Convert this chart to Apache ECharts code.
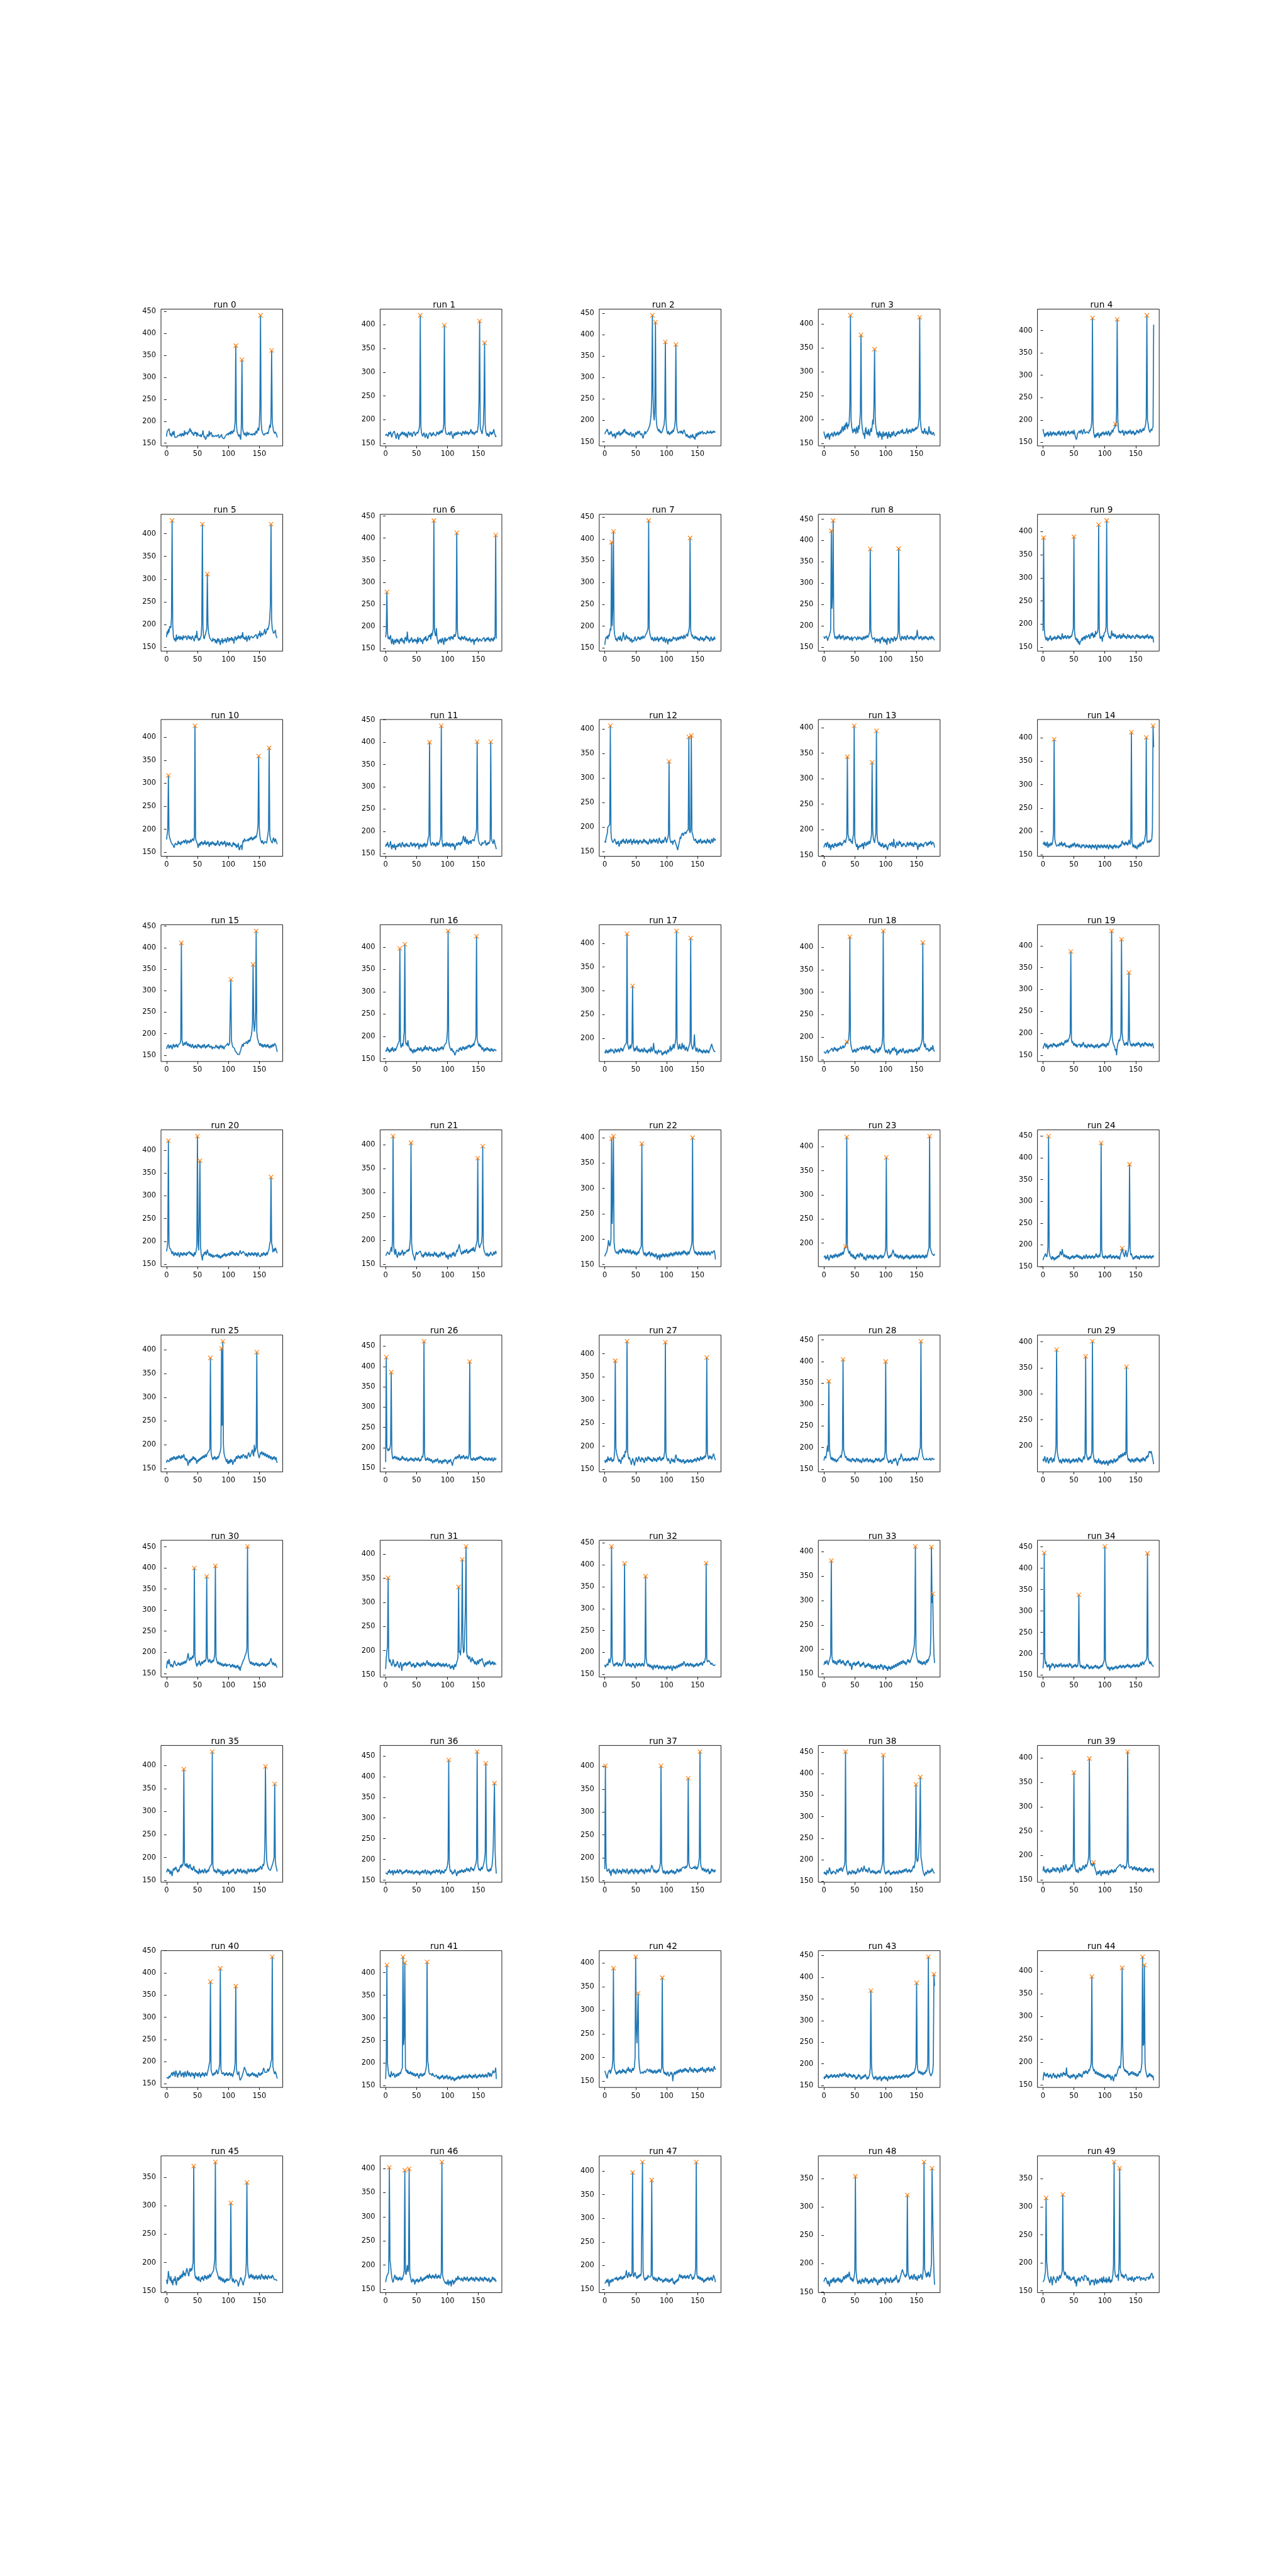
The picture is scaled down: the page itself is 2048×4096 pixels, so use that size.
<!DOCTYPE html>
<html><head><meta charset="utf-8">
<script src="https://cdn.jsdelivr.net/npm/echarts@6/dist/echarts.min.js"></script>
<style>html,body{margin:0;padding:0;background:#fff}#c{width:2048px;height:4096px}</style>
</head><body><div id="c"></div><script>
const run0 = [165,177,176,179,183,174,168,172,165,170,176,169,178,166,163,165,162,164,168,166,
170,167,172,170,165,173,168,172,166,179,170,168,175,172,169,177,174,180,184,176,
180,172,175,170,167,173,176,171,175,165,174,170,168,172,166,170,164,168,171,179,
168,163,166,158,160,164,170,172,165,178,168,166,175,172,164,168,170,165,167,163,
168,165,163,166,170,162,164,165,167,170,163,165,162,160,163,165,168,166,170,172,
168,174,171,176,170,178,175,172,180,176,185,200,372,195,178,173,168,165,170,163,
158,190,340,185,176,172,168,174,170,165,176,172,168,174,171,170,173,169,172,168,
170,166,173,168,175,178,172,180,185,178,190,230,441,200,180,175,171,173,168,172,
170,174,172,175,171,176,178,192,185,210,361,195,188,178,175,172,176,175,170,163];
const run1 = [166,170,168,172,165,174,169,171,175,167,163,170,172,168,176,171,165,160,167,172,
168,158,164,170,166,173,169,175,171,168,174,170,165,172,168,162,170,175,172,167,
170,173,168,164,171,169,175,172,166,170,168,174,171,176,180,190,420,185,172,168,
165,170,173,167,162,168,171,166,160,164,170,168,173,169,165,171,167,174,170,168,
172,166,169,175,170,173,168,176,171,174,178,172,170,180,192,399,186,175,170,168,
172,169,174,171,167,173,176,170,165,160,168,172,166,170,174,168,171,175,170,172,
168,173,170,166,172,176,171,174,169,177,173,170,175,172,168,174,171,176,180,174,
170,175,172,168,174,171,176,178,173,180,192,240,408,185,178,174,170,172,190,230,
362,190,176,170,166,172,168,164,170,175,172,168,174,170,176,180,172,168,164,166];
const run2 = [168,172,170,176,180,174,170,166,172,168,175,171,166,162,168,164,170,158,163,169,
172,166,170,175,168,164,171,167,173,169,178,172,180,176,170,174,168,172,166,170,
165,170,173,168,162,166,170,164,160,167,172,166,170,175,169,172,176,170,166,164,
170,162,158,165,170,175,168,172,170,175,178,182,185,190,200,215,250,445,260,215,
200,230,429,210,190,182,178,175,180,172,176,170,168,174,180,185,190,210,383,200,
180,172,168,175,170,166,172,169,175,170,178,173,180,185,200,377,195,180,174,170,
168,172,175,170,176,172,168,174,178,175,170,166,162,168,165,160,164,162,158,166,
163,160,168,164,158,162,155,165,170,162,168,172,166,170,174,168,172,170,175,168,
166,172,170,174,168,172,176,170,168,173,170,176,172,169,174,171,176,172,170,174];
const run3 = [175,168,164,160,166,170,163,172,168,158,165,170,167,173,168,164,171,175,169,166,
172,168,175,171,167,174,170,178,172,182,186,175,180,188,178,192,185,195,180,190,
186,196,230,418,200,185,178,172,180,175,182,176,170,185,178,172,188,180,195,215,
377,200,182,175,168,172,160,178,184,170,175,168,180,172,166,176,182,174,186,200,
190,230,347,205,185,178,168,174,162,170,176,165,172,168,158,170,175,164,168,172,
166,174,170,160,168,175,164,170,162,168,174,166,172,176,168,170,165,172,168,175,
171,176,170,168,174,178,172,180,175,170,168,174,171,176,182,175,170,178,174,180,
176,172,178,182,175,180,176,182,178,185,180,178,184,192,205,414,200,185,178,172,
176,170,175,182,174,170,176,172,168,174,186,175,170,176,172,168,170,174,170,166];
const run4 = [180,172,168,162,170,165,172,168,174,163,170,166,175,169,164,172,168,174,170,166,
172,168,165,170,174,168,176,170,165,172,168,175,170,166,172,176,170,164,168,174,
170,176,172,168,166,174,170,176,172,168,178,172,165,160,156,162,170,168,172,176,
170,175,178,172,168,174,180,176,170,172,168,174,176,172,170,178,175,180,185,200,
428,190,172,165,160,168,162,170,165,172,168,160,166,170,164,172,168,174,170,166,
172,168,175,170,166,172,176,170,164,172,168,175,178,172,180,180,183,191,186,215,
425,200,180,172,176,170,168,175,172,178,170,165,172,176,170,174,168,172,176,170,
174,178,172,168,175,170,176,172,166,172,168,174,178,172,176,170,174,180,176,172,
178,175,182,176,180,185,190,205,434,200,192,180,176,172,170,180,176,182,185,413];
const run5 = [172,185,178,190,182,196,198,192,215,429,200,175,168,165,170,162,178,166,172,168,
175,170,166,174,168,172,165,176,170,172,168,175,170,166,172,176,171,168,174,170,
166,172,175,170,168,163,172,176,170,186,172,168,164,170,166,172,175,200,421,190,
172,168,175,178,185,190,311,200,182,176,170,172,166,168,162,170,165,163,168,160,
166,158,164,170,162,168,160,155,165,162,170,158,166,168,163,170,164,160,168,172,
166,162,170,165,168,172,164,170,166,158,168,174,170,165,172,168,176,170,174,168,
172,176,170,183,174,168,172,166,170,175,162,168,172,176,165,170,168,174,172,176,
170,168,174,172,176,178,172,168,175,180,176,186,172,178,182,176,174,180,185,190,
178,182,186,192,188,195,200,215,245,421,210,190,186,180,178,184,188,176,172,170];
const run6 = [175,190,278,185,172,176,170,168,180,165,160,172,168,158,165,170,162,168,172,164,
170,165,160,168,172,166,174,170,164,168,160,172,176,170,166,188,172,168,162,170,
166,172,175,168,163,170,166,172,168,165,170,160,176,164,170,168,174,165,170,166,
160,172,168,175,170,178,166,172,168,175,180,176,182,170,185,178,186,195,440,190,
182,178,196,175,168,160,158,170,165,172,162,168,174,166,158,170,175,165,172,168,
166,172,170,176,168,174,178,172,176,170,178,182,176,180,188,412,195,178,172,176,
170,174,168,178,172,176,170,174,178,172,168,174,170,166,172,168,175,170,164,170,
166,172,168,158,170,166,172,168,175,170,165,168,172,170,174,166,170,172,168,175,
170,165,172,168,174,170,176,168,172,165,170,174,168,172,166,176,170,180,407,172];
const run7 = [157,168,175,172,178,170,180,176,185,195,190,392,200,240,417,195,180,175,168,172,
165,170,176,172,168,178,172,165,170,175,186,178,172,168,175,180,172,176,170,168,
174,165,168,172,162,168,170,165,172,176,170,166,168,172,176,170,174,168,172,176,
170,175,178,172,170,176,180,178,185,190,195,442,192,182,176,172,168,175,170,165,
170,175,166,172,168,176,170,164,172,168,174,170,176,172,168,165,175,170,162,168,
172,166,158,170,165,172,168,164,170,166,172,176,170,168,174,170,166,172,175,168,
172,176,170,174,178,172,176,170,180,175,172,178,176,182,176,185,190,200,402,190,
182,176,180,172,175,170,178,172,176,170,174,168,172,166,170,176,172,168,174,170,
165,172,168,175,178,172,176,170,174,168,165,172,176,170,166,172,168,176,170,172];
const run8 = [175,170,172,168,176,172,165,170,174,178,180,190,423,240,270,447,190,178,170,175,
172,168,176,170,174,180,172,168,176,170,174,178,172,166,170,175,168,172,176,170,
174,170,166,172,168,175,164,170,172,168,174,176,170,166,172,175,168,170,174,172,
168,172,166,170,175,168,172,176,170,174,178,172,175,180,185,380,190,176,172,168,
170,166,172,160,168,165,170,162,168,164,170,158,166,172,168,174,166,162,170,165,
160,168,155,172,166,170,164,158,168,172,166,170,162,168,175,170,164,172,168,175,
185,381,188,172,168,165,176,170,174,168,172,176,170,166,174,178,172,170,168,174,
170,176,172,168,174,170,166,172,176,170,178,190,176,172,168,174,170,176,172,166,
170,174,168,172,176,170,174,168,172,166,170,175,172,168,176,170,174,172,168,166];
const run9 = [185,387,192,176,170,165,172,168,163,170,166,172,175,168,164,170,166,172,168,174,
170,166,172,168,176,170,174,168,172,166,170,180,172,168,174,170,176,172,168,170,
176,172,168,174,170,175,172,178,180,190,389,185,172,166,170,162,168,158,164,155,
160,158,166,170,164,172,168,174,166,172,176,170,168,174,178,172,168,176,180,174,
182,176,170,178,172,185,178,176,182,190,415,188,172,168,174,170,162,176,172,180,
178,184,195,424,192,180,176,170,174,168,172,186,178,174,180,176,172,178,174,168,
172,176,170,174,178,172,168,176,170,174,180,172,176,170,174,168,172,178,174,170,
176,172,168,174,170,176,178,172,174,168,176,172,178,174,170,176,172,168,174,170,
172,176,170,174,168,172,176,170,174,178,172,168,174,170,176,172,168,174,170,160];
const run10 = [178,180,200,317,190,182,178,174,170,172,168,165,160,164,170,168,172,166,170,175,
168,172,170,166,174,170,168,172,176,170,174,178,172,168,176,172,175,170,174,178,
172,176,180,178,175,185,425,180,175,172,168,160,166,170,164,172,168,174,170,166,
172,168,176,170,166,172,168,174,170,162,168,172,166,170,174,168,172,166,170,164,
170,166,172,176,168,170,164,172,168,174,170,166,172,168,175,170,162,168,172,166,
170,164,172,168,166,170,162,168,172,166,170,164,168,160,166,162,170,158,155,162,
160,166,155,170,176,172,180,178,174,176,172,178,174,180,176,182,178,184,180,176,
182,178,184,180,186,182,188,195,210,359,205,185,178,174,170,176,172,168,170,174,
172,176,170,180,190,200,377,188,180,175,176,170,178,182,176,172,180,178,172,168];
const run11 = [165,172,168,176,170,164,166,172,178,165,160,170,168,163,172,166,158,168,170,165,
172,166,170,174,168,164,170,176,172,166,170,164,172,168,174,166,170,172,165,168,
172,176,170,166,172,168,174,170,164,172,168,166,174,170,160,168,172,166,170,164,
168,172,166,174,170,164,172,168,178,186,190,400,180,172,168,170,176,172,168,174,
170,166,172,176,168,174,170,176,180,190,437,182,170,165,172,168,174,166,170,176,
168,172,166,174,170,164,172,168,174,166,172,168,158,166,170,174,168,172,176,170,
174,168,176,172,178,185,190,180,176,188,178,172,182,176,170,178,174,180,172,178,
176,182,180,178,186,190,195,205,401,200,182,176,172,170,174,168,176,172,170,174,
176,180,172,168,174,170,176,172,175,182,401,185,178,176,172,182,178,170,166,160];
const run12 = [172,168,176,182,186,200,198,202,205,407,190,175,172,168,170,166,176,172,168,164,
170,166,172,160,164,168,172,166,174,170,176,168,172,166,170,176,172,166,170,174,
168,172,176,170,164,172,168,176,170,166,172,168,174,170,164,172,168,174,176,170,
166,172,168,176,170,174,168,172,166,170,164,168,172,176,170,166,174,168,172,176,
170,174,168,172,176,170,166,172,178,174,168,172,166,170,174,168,172,176,180,172,
168,174,178,185,334,180,172,168,166,172,164,170,168,174,170,166,162,158,153,160,
166,172,180,176,184,182,188,182,186,184,190,186,188,192,190,195,384,192,188,196,
387,190,186,180,175,172,170,176,168,172,166,170,174,168,172,176,170,166,172,168,
170,174,168,172,166,170,176,172,168,174,170,166,170,176,172,168,178,180,172,176];
const run13 = [165,170,168,174,166,172,176,170,164,172,168,160,170,166,172,168,164,170,174,168,
172,166,170,174,168,172,176,170,174,168,172,170,176,180,178,174,182,185,343,190,
186,178,176,182,175,178,172,185,192,404,185,175,170,166,172,160,168,164,170,172,
166,172,168,174,162,170,176,172,168,172,176,170,174,178,172,176,182,190,332,200,
182,178,174,185,192,394,190,178,174,170,176,168,172,166,170,174,168,164,170,166,
172,168,166,160,168,170,166,174,168,172,176,170,166,182,172,168,164,170,176,172,
168,174,178,172,176,170,166,172,168,174,176,170,172,166,170,176,172,168,174,170,
176,172,168,174,170,166,172,176,170,168,174,172,160,168,172,166,170,174,168,172,
170,166,172,174,170,176,172,168,174,170,176,172,174,178,170,172,176,178,172,165];
const run14 = [175,172,178,170,176,168,172,178,165,170,174,168,172,176,170,174,180,200,397,185,
176,172,168,170,166,172,168,176,174,170,178,172,168,174,170,176,172,166,170,168,
172,166,170,164,168,172,166,170,174,168,172,176,170,166,172,168,174,170,166,172,
168,170,164,172,168,166,172,170,164,168,172,166,170,168,164,172,166,170,162,168,
172,166,170,164,168,172,166,160,168,172,166,170,164,168,172,166,170,164,168,172,
166,170,164,168,172,166,162,168,172,166,170,164,168,162,170,166,172,168,164,170,
172,168,164,170,166,172,168,174,180,178,172,176,170,174,178,172,176,170,174,182,
176,172,190,412,178,170,166,172,168,164,170,168,162,168,172,166,170,176,168,172,
174,178,172,176,180,178,195,401,182,175,180,178,176,182,178,180,184,205,426,380];
const run15 = [165,170,168,175,166,172,168,174,170,164,170,176,172,168,174,170,176,172,168,174,
172,176,178,186,411,185,178,172,176,180,174,178,182,176,172,178,174,170,176,172,
168,172,176,170,166,172,168,174,170,166,172,176,170,174,168,172,166,170,174,168,
172,176,170,166,172,168,174,170,176,172,168,166,172,170,164,170,168,172,166,170,
174,168,172,166,170,164,172,168,174,170,166,172,168,164,170,172,168,174,176,178,
172,175,178,180,326,185,176,170,168,172,166,160,158,160,155,152,150,150,152,158,
162,168,172,176,170,178,180,176,178,182,180,176,185,180,186,182,190,195,205,225,
361,230,205,220,250,439,205,190,185,180,176,172,178,174,170,176,168,174,170,176,
172,168,174,170,176,168,172,166,170,174,168,172,176,170,174,178,176,172,170,158];
const run16 = [170,166,172,176,168,172,164,170,166,174,168,176,172,166,170,174,168,172,176,180,
178,182,190,397,182,175,180,185,178,195,210,406,190,182,186,178,192,180,176,172,
168,174,166,170,162,168,172,164,170,166,172,168,176,170,174,168,172,176,170,166,
172,168,176,170,180,174,170,176,172,168,174,178,172,170,176,168,172,166,170,174,
168,172,166,170,176,172,168,174,170,176,172,178,174,170,176,180,178,182,186,195,
215,436,192,180,175,172,168,174,170,165,168,162,158,162,166,170,168,172,166,174,
170,176,172,168,174,178,172,176,170,174,178,172,176,180,176,182,178,174,180,176,
182,178,185,180,188,192,200,424,195,188,182,178,184,176,180,174,170,176,172,166,
170,174,168,172,176,170,174,168,172,166,170,174,168,172,166,168,172,170,168,170];
const run17 = [172,168,176,170,174,168,172,176,170,174,178,172,170,176,174,168,172,178,174,170,
176,172,178,174,170,176,180,174,178,172,176,180,184,182,186,190,420,188,182,176,
180,186,178,184,190,310,182,176,172,180,174,178,184,176,172,178,174,170,176,172,
178,174,170,176,180,172,176,170,174,168,176,172,178,174,170,182,176,172,178,190,
176,172,168,174,170,166,172,176,170,168,172,174,168,164,170,166,172,168,174,170,
166,172,176,170,174,178,184,172,180,176,182,188,178,184,190,200,426,192,184,176,
180,188,178,182,176,190,184,178,186,180,174,178,182,176,172,178,182,186,195,411,
188,182,176,180,186,208,182,176,172,180,176,170,174,178,172,176,170,174,168,172,
176,170,174,168,172,176,170,174,168,172,176,180,184,188,182,178,176,172,170,172];
const run18 = [168,166,170,164,168,166,172,164,168,170,166,172,170,176,172,168,174,178,172,176,
170,174,168,176,172,170,176,180,174,172,178,182,176,174,180,184,182,190,186,192,
195,215,423,192,180,174,170,166,172,168,174,170,166,172,176,170,168,174,172,176,
178,172,176,180,174,178,172,176,182,176,172,180,174,178,182,176,170,174,168,172,
166,170,164,168,172,176,170,166,174,168,178,172,176,180,184,200,436,190,176,170,
166,172,168,164,170,174,168,162,170,166,172,176,170,174,178,172,168,174,160,166,
170,164,172,168,174,170,166,172,176,170,168,164,170,166,172,168,164,170,174,168,
172,168,174,170,166,172,168,174,170,176,172,168,174,178,172,176,180,182,188,198,
410,192,184,178,186,176,172,170,176,172,168,174,170,178,176,172,182,176,170,168];
const run19 = [165,170,174,178,172,168,176,170,164,172,168,174,170,176,172,168,174,178,172,176,
170,174,168,172,176,170,174,178,172,176,180,174,178,172,176,180,184,178,182,186,
180,184,188,192,200,387,186,178,182,176,172,178,174,170,176,168,172,174,170,176,
172,168,176,170,174,180,176,172,168,174,170,166,172,176,170,174,168,172,176,170,
174,168,172,166,170,174,168,172,176,170,166,172,168,174,170,176,172,178,174,170,
176,172,168,174,178,172,176,180,184,190,200,434,192,180,176,172,168,160,164,150,
168,176,180,186,182,190,198,415,200,186,182,176,172,178,174,180,176,172,190,339,
186,178,172,176,170,174,178,172,176,170,174,178,172,176,180,174,178,172,168,176,
172,178,174,170,176,180,174,178,172,176,170,174,178,172,176,170,174,178,172,166];
const run20 = [178,186,200,421,192,185,186,182,176,172,178,174,168,172,176,170,174,168,172,176,
170,165,172,176,170,174,168,172,176,170,174,172,168,176,172,170,174,178,172,176,
170,174,168,172,166,176,170,174,180,190,431,200,180,250,377,190,172,166,158,172,
168,176,172,178,170,174,182,176,172,168,174,170,166,172,168,164,170,166,168,164,
170,166,172,168,164,170,166,162,168,164,170,166,172,168,174,170,166,172,168,170,
174,172,168,176,170,174,178,172,176,170,174,168,172,176,170,174,168,172,176,180,
176,172,170,174,178,180,176,172,168,174,170,166,172,176,170,174,168,172,176,170,
174,168,172,176,170,174,166,172,176,170,168,172,166,170,174,168,172,176,170,174,
168,172,176,170,176,180,185,196,200,341,196,190,176,180,184,178,186,182,178,174];
const run21 = [168,170,172,176,174,178,170,176,180,186,176,200,418,190,176,170,182,174,168,164,
170,176,172,168,174,170,176,180,174,168,176,172,170,176,174,180,176,182,178,190,
205,404,195,180,172,168,164,158,166,172,176,170,168,174,176,172,178,174,170,166,
170,164,172,168,176,170,174,166,172,168,176,170,166,172,174,168,172,166,170,176,
172,168,174,166,170,164,168,172,166,170,176,172,168,174,170,176,172,168,164,170,
166,160,170,166,172,168,164,170,174,168,176,172,166,170,174,180,176,182,186,192,
184,178,176,170,174,178,172,176,180,174,178,182,176,172,178,174,180,176,182,178,
184,178,186,180,176,182,188,190,200,372,196,188,184,190,192,195,210,397,190,180,
176,172,170,168,174,172,166,172,168,170,176,172,174,168,172,176,170,174,178,172];
const run22 = [166,170,168,174,180,186,198,192,186,190,200,398,230,280,403,195,182,176,178,172,
176,174,170,178,174,180,176,172,178,182,176,180,174,178,172,176,180,174,178,172,
176,180,174,170,176,172,178,174,170,176,172,168,174,170,176,172,178,180,176,186,
388,188,176,172,168,174,170,166,172,168,174,170,176,172,166,170,174,168,172,166,
170,164,168,172,166,160,168,164,170,158,166,170,164,168,172,166,170,164,168,172,
166,170,164,168,172,166,170,174,168,172,166,170,174,168,172,176,170,174,168,172,
176,170,174,168,172,176,170,174,178,172,176,170,174,168,172,176,170,174,178,180,
186,195,400,190,180,176,172,176,170,174,168,172,176,170,174,168,172,176,170,174,
168,172,176,170,174,168,172,176,170,174,168,172,170,176,172,170,174,178,172,160];
const run23 = [170,168,174,166,172,168,176,170,164,168,172,176,170,174,168,172,176,170,174,178,
172,176,170,174,178,172,176,180,174,178,182,176,180,186,184,193,190,420,195,186,
182,178,184,176,172,178,174,170,176,168,172,166,170,176,172,178,174,170,176,180,
176,172,178,174,170,166,172,168,164,170,176,172,168,174,170,176,172,168,174,170,
166,172,176,170,168,174,170,166,172,168,174,170,176,172,168,174,170,172,176,180,
190,378,185,176,172,168,174,170,176,172,178,182,186,180,176,172,178,174,170,176,
172,168,174,170,176,172,168,174,170,166,172,168,174,170,176,172,168,174,170,166,
172,168,174,170,176,172,168,174,170,176,172,168,174,170,176,172,168,174,170,172,
176,170,174,168,172,176,170,174,180,186,190,422,192,186,182,178,176,180,174,178];
const run24 = [165,170,168,176,180,175,172,178,195,450,185,176,172,170,166,174,168,172,164,170,
166,172,168,174,170,176,172,178,185,180,176,190,182,176,172,178,174,170,176,172,
168,174,170,166,172,168,174,170,176,172,168,174,170,176,172,178,174,170,176,172,
168,174,170,166,172,168,176,172,168,174,178,172,168,174,170,176,172,168,174,170,
176,172,168,174,170,176,180,172,176,170,174,178,172,186,434,190,176,170,174,168,
172,176,170,174,168,172,176,170,174,178,172,168,174,170,176,172,168,174,170,176,
172,168,174,170,166,176,180,184,192,186,180,176,172,182,188,176,172,180,186,200,
385,190,176,180,174,170,166,172,168,174,170,176,172,168,174,170,166,172,176,170,
168,174,170,176,172,168,174,170,176,172,168,174,170,176,172,168,174,170,176,172];
const run25 = [162,168,166,170,164,168,172,166,170,174,168,172,176,170,174,168,172,176,170,174,
178,172,176,170,174,178,172,176,180,174,168,172,166,170,162,156,164,168,162,170,
166,172,168,176,170,174,168,172,166,160,168,164,170,166,172,168,174,170,176,172,
178,172,176,180,174,178,182,180,186,184,190,383,185,176,172,168,174,170,176,172,
168,174,170,176,172,178,182,186,195,403,240,418,200,182,176,172,168,164,170,160,
166,160,168,162,170,164,168,158,162,166,170,164,172,176,170,174,178,172,176,170,
174,178,172,176,180,182,176,172,178,174,170,176,180,184,178,174,172,176,186,190,
180,176,200,185,190,195,395,190,182,176,172,178,184,180,186,182,178,184,180,176,
182,178,174,180,176,172,178,174,170,176,172,168,174,170,176,172,168,174,166,162];
const run26 = [165,423,200,196,192,198,194,200,210,386,190,176,172,178,174,180,176,172,178,174,
170,176,172,168,174,170,176,180,172,176,170,174,168,172,176,170,166,172,168,174,
170,176,172,168,174,170,166,172,176,170,174,168,172,176,170,166,172,168,174,180,
176,190,462,185,172,168,174,170,176,172,168,174,170,166,172,168,162,166,170,164,
168,172,166,170,174,168,162,166,170,164,168,160,166,170,164,168,172,166,170,164,
160,166,170,164,168,172,166,162,156,164,170,168,174,178,172,176,180,174,178,184,
178,172,176,180,174,178,182,176,172,178,174,180,176,172,178,186,412,180,170,174,
168,172,176,170,174,168,172,176,170,174,178,172,176,180,174,178,172,176,170,174,
168,172,176,170,174,168,172,176,170,174,168,172,176,170,166,172,176,170,168,174];
const run27 = [170,164,168,172,166,178,170,174,168,172,176,170,166,172,168,174,190,385,196,186,
180,176,170,166,172,168,162,170,176,172,178,182,176,190,186,195,427,188,178,172,
176,170,166,160,168,174,170,164,158,166,172,176,170,166,172,178,174,170,166,172,
176,170,174,168,164,170,176,172,168,174,178,172,176,170,174,168,172,166,170,176,
172,168,174,170,166,172,176,170,174,178,172,168,174,170,176,172,180,190,425,185,
176,172,168,174,170,166,162,168,174,170,166,172,168,164,176,182,176,172,168,174,
170,166,172,168,164,170,166,172,168,162,168,164,170,166,172,168,164,170,166,172,
168,164,170,166,172,168,174,170,166,172,176,170,174,168,172,178,174,170,176,172,
178,174,180,176,188,392,186,178,172,176,180,174,178,172,176,180,184,178,174,170];
const run28 = [170,176,180,175,182,195,205,190,354,200,185,176,172,178,170,176,172,168,174,170,
166,172,168,174,176,172,178,182,176,186,195,405,196,188,182,176,180,174,170,176,
172,168,174,170,166,172,176,170,174,168,172,166,170,176,172,168,174,170,166,172,
168,164,170,176,172,166,170,174,168,172,176,170,166,172,168,174,170,166,172,168,
164,170,166,172,176,170,174,168,172,176,170,166,172,168,174,170,176,172,180,190,
400,188,176,172,168,164,170,166,172,168,162,166,170,174,168,172,176,170,164,158,
166,170,176,172,178,186,180,176,172,168,174,170,176,172,168,174,170,176,172,168,
174,170,176,172,178,174,170,176,172,178,174,170,176,180,186,195,200,447,200,188,
180,176,172,174,170,172,176,172,174,170,172,176,174,170,172,176,174,172,170,174];
const run29 = [175,170,176,180,172,168,174,178,172,166,170,176,172,178,174,168,172,176,170,180,
186,200,385,190,182,176,172,168,174,170,166,172,176,170,174,168,172,176,170,174,
168,172,176,170,166,172,168,174,170,176,172,168,174,170,176,172,168,174,178,172,
176,170,174,168,172,176,180,174,185,372,186,180,176,172,178,174,180,176,182,190,
401,186,178,172,168,174,170,166,172,168,176,170,166,172,168,164,170,166,172,168,
164,170,166,172,168,162,168,172,166,170,174,168,172,166,170,176,172,168,174,170,
176,172,178,182,176,180,184,178,182,186,180,184,188,182,186,352,186,178,172,176,
170,174,168,172,176,170,174,168,172,176,170,174,178,172,176,170,174,168,172,176,
170,174,178,172,176,170,174,180,176,182,178,186,190,192,186,190,184,178,172,165];
const run30 = [162,176,180,172,184,176,170,166,172,168,164,170,176,180,174,172,168,166,172,176,
170,174,168,172,176,170,174,178,172,176,180,174,178,182,190,198,186,180,184,188,
182,186,192,186,195,400,190,178,172,166,174,170,176,180,172,168,174,178,172,176,
180,176,182,178,186,380,190,182,176,180,184,178,174,180,176,182,178,186,195,405,
188,182,176,172,178,174,170,176,172,168,174,170,166,172,168,174,170,166,172,168,
170,166,172,168,164,170,166,172,168,164,170,166,162,168,164,170,166,160,166,156,
164,168,172,176,180,178,186,192,195,200,210,451,200,186,180,176,172,178,174,170,
176,172,168,174,170,176,172,168,174,170,166,172,168,174,170,176,172,168,174,170,
166,172,168,174,170,176,172,178,182,186,178,174,170,176,172,168,174,170,166,164];
const run31 = [162,185,198,210,351,186,176,182,176,172,168,174,182,176,170,166,172,168,174,178,
172,168,164,170,176,172,158,166,172,168,174,170,176,172,168,174,170,176,172,178,
174,170,166,172,168,174,170,164,170,166,172,176,170,174,168,172,166,170,174,168,
172,176,170,174,168,172,176,180,174,170,176,172,168,174,170,166,172,168,174,170,
166,172,168,174,170,176,172,168,174,170,166,172,168,174,170,166,172,168,174,170,
166,164,168,172,166,162,168,164,170,166,160,168,172,166,170,176,180,186,332,196,
200,190,210,250,389,210,195,200,240,290,416,200,186,190,182,184,188,180,176,182,
186,178,182,176,172,178,174,170,176,180,172,176,182,178,176,180,184,178,174,170,
166,172,176,170,174,178,172,176,180,174,170,176,172,178,174,170,176,172,170,172];
const run32 = [172,166,170,168,174,170,178,186,176,180,190,442,190,176,172,168,174,170,176,172,
178,174,168,172,176,170,174,168,172,176,180,186,403,180,172,168,174,170,176,172,
168,174,170,166,172,176,170,174,168,164,170,176,172,168,174,170,176,172,168,174,
170,176,172,168,174,185,374,190,176,172,168,174,170,166,172,168,164,170,160,166,
172,168,164,170,166,172,168,162,166,170,164,168,162,166,170,164,168,160,164,168,
162,166,170,164,168,162,166,170,164,158,166,170,164,168,162,166,170,164,168,172,
166,170,174,168,172,176,170,174,180,176,172,168,174,170,176,172,168,174,170,176,
172,168,174,170,166,172,168,174,170,176,172,168,174,170,176,172,178,174,170,176,
180,176,182,190,404,186,178,176,182,184,178,176,172,176,178,174,170,172,170,172];
const run33 = [168,172,176,170,174,178,172,168,174,176,182,190,382,186,176,172,178,174,170,176,
172,168,174,178,172,176,180,174,170,176,172,178,174,168,172,166,170,176,172,178,
174,170,166,172,168,158,166,172,168,174,170,166,172,168,174,170,176,172,168,164,
170,166,172,168,174,170,166,162,168,164,170,166,172,168,164,170,166,160,168,164,
160,166,162,168,164,158,166,162,168,164,160,166,170,164,168,162,158,164,168,162,
166,160,164,156,162,166,160,164,158,162,166,160,164,168,162,166,170,164,168,172,
166,170,174,168,172,176,170,174,178,172,176,170,174,168,172,176,180,174,178,172,
176,180,184,186,192,200,206,230,411,196,186,180,176,172,178,174,170,176,172,168,
174,170,176,172,168,174,178,172,180,176,182,186,190,230,410,295,314,240,190,172];
const run34 = [166,185,436,190,176,182,172,168,174,170,176,160,172,168,174,178,172,176,170,166,
172,176,170,174,168,172,176,170,174,178,172,168,174,170,176,172,168,174,170,176,
172,168,174,178,172,176,170,166,172,168,174,170,176,172,168,174,170,180,338,186,
172,168,174,170,166,172,168,164,170,166,172,176,170,174,168,164,170,166,172,168,
164,170,166,172,168,174,170,166,172,168,164,170,166,172,168,174,170,176,180,185,
451,186,176,172,168,164,170,166,160,168,164,170,166,162,168,164,170,166,172,168,
164,170,166,172,168,174,170,166,172,168,174,170,166,172,168,174,170,176,172,168,
174,170,166,172,168,174,170,176,172,168,174,170,176,172,168,174,170,176,180,172,
176,182,178,174,180,178,182,186,194,435,190,186,180,176,182,178,174,176,172,170];
const run35 = [168,172,176,170,174,168,164,172,168,160,170,176,172,178,174,180,176,172,168,174,
170,176,180,184,178,186,182,190,392,190,182,186,180,188,178,184,176,182,186,180,
174,178,172,176,182,176,170,174,168,172,166,170,164,176,170,166,172,168,174,170,
166,172,176,170,166,172,168,174,170,176,180,178,182,186,430,182,176,170,174,168,
172,166,170,176,172,168,174,170,164,168,172,160,166,170,164,168,172,166,170,174,
168,164,170,166,172,168,174,170,176,172,168,164,170,166,172,176,170,174,168,172,
176,170,166,172,168,174,170,166,172,168,164,170,176,172,168,174,170,176,172,168,
174,170,176,172,168,174,170,176,172,178,174,176,182,178,174,180,186,182,190,220,
398,250,195,186,180,176,178,174,172,176,180,184,188,190,200,360,192,182,176,170];
const run36 = [168,166,170,164,172,168,176,170,166,172,168,174,162,168,174,170,166,172,168,176,
170,166,172,176,170,174,168,164,170,166,172,168,174,170,176,172,166,170,174,168,
172,166,170,174,168,164,170,166,172,168,174,170,166,172,168,162,170,166,172,168,
174,170,166,172,176,170,164,168,174,170,166,172,168,162,170,166,172,168,174,170,
166,172,176,170,174,168,172,176,170,164,170,174,168,172,166,170,176,172,176,180,
186,200,440,190,176,170,174,168,164,170,166,172,176,170,166,160,168,172,166,170,
174,168,172,176,170,174,168,172,176,170,174,180,176,172,178,174,170,176,182,178,
174,178,172,176,180,186,190,202,460,190,180,174,178,172,176,182,176,180,186,192,
200,215,432,190,178,172,176,170,174,178,172,180,184,200,228,226,384,220,185,166];
const run37 = [175,401,188,176,170,172,168,176,166,172,160,168,174,170,176,166,172,168,164,170,
176,172,166,170,174,168,172,164,170,176,172,168,174,170,166,172,176,170,164,168,
172,166,174,170,176,168,172,164,170,176,172,168,174,170,164,172,168,174,170,176,
172,168,174,170,164,170,176,172,168,174,170,176,172,168,174,178,184,182,176,172,
168,174,170,166,172,168,174,170,176,180,190,401,186,176,170,166,172,168,164,170,
166,172,168,164,170,166,172,168,174,170,166,172,168,164,170,166,172,176,170,174,
168,172,176,170,174,178,180,176,180,178,176,182,178,180,186,374,190,182,178,176,
180,176,178,174,180,176,182,178,174,180,176,182,190,200,432,188,180,176,172,178,
174,170,176,172,168,174,170,176,172,164,170,166,172,176,170,174,172,168,174,170];
const run38 = [168,172,166,170,164,176,172,168,174,182,176,170,166,172,168,174,176,172,170,166,
172,178,174,170,176,180,174,178,182,176,172,178,182,186,195,451,190,176,170,164,
170,174,168,172,166,170,176,172,168,174,170,166,172,168,176,180,174,170,176,172,
178,182,176,172,178,186,180,176,172,178,174,170,176,182,176,172,168,174,170,176,
172,168,174,170,166,172,168,174,170,176,172,168,174,180,186,196,443,188,176,170,
166,172,168,174,170,176,172,168,164,170,166,172,168,174,170,166,172,168,174,170,
166,172,176,170,174,168,172,176,170,174,178,172,176,180,174,170,176,172,178,174,
170,176,172,178,182,186,180,190,200,375,205,195,198,210,235,280,392,206,198,186,
176,170,166,162,168,172,166,170,176,172,168,174,170,176,172,180,176,172,170,168];
const run39 = [168,178,172,166,170,164,172,168,174,166,170,164,168,172,166,170,176,172,168,174,
170,166,172,176,170,174,168,164,170,176,172,166,170,180,174,170,176,182,178,172,
168,174,170,176,172,178,182,176,180,190,370,186,176,170,166,172,168,164,170,176,
172,168,174,170,176,180,176,172,178,182,176,180,184,190,200,399,192,186,180,184,
178,182,186,180,174,170,166,160,164,168,162,166,170,164,158,164,168,162,166,170,
164,168,162,166,170,164,160,166,170,164,168,172,166,170,164,168,172,166,170,174,
176,172,178,180,178,182,180,176,178,174,180,176,172,178,174,180,190,413,186,178,
174,176,172,178,174,170,176,172,178,174,170,176,172,168,174,170,176,172,168,174,
170,166,172,168,174,170,176,172,168,174,170,166,172,168,174,176,172,170,174,165];
const run40 = [165,163,166,162,168,164,166,170,172,176,168,174,178,172,166,180,176,170,164,174,
170,176,180,172,166,174,170,176,164,172,178,170,166,174,180,172,168,176,172,166,
170,176,172,168,174,162,170,176,172,168,174,166,172,176,170,164,172,168,176,170,
174,166,170,176,172,168,174,180,186,194,200,380,182,176,172,168,174,170,176,172,
178,182,176,172,178,186,195,410,184,176,172,170,176,172,168,174,170,176,172,168,
174,170,176,172,168,174,170,166,172,178,184,200,370,186,176,170,174,178,164,158,
156,160,166,172,176,182,188,184,180,176,172,168,174,170,166,172,168,174,170,176,
172,168,174,170,166,172,168,164,170,176,172,168,174,170,176,172,180,186,182,176,
174,178,176,180,184,178,182,186,190,200,205,436,190,182,176,172,178,174,176,162];
const run41 = [165,205,417,200,185,176,170,174,168,182,176,172,170,178,174,168,172,176,170,174,
178,172,176,180,176,182,186,190,435,240,260,422,190,182,186,178,184,176,180,176,
182,178,174,180,176,172,178,174,170,176,172,178,174,170,166,176,172,178,174,170,
176,172,178,174,180,186,195,424,205,196,180,176,178,174,176,172,178,174,176,170,
172,168,174,170,166,172,168,164,170,166,172,168,174,170,164,168,172,166,170,174,
168,164,170,166,172,168,162,166,170,164,168,160,166,162,168,164,170,166,172,168,
164,170,166,172,168,174,170,166,172,168,174,170,166,172,168,176,170,174,168,172,
166,170,174,168,172,176,170,166,172,168,174,170,176,172,168,174,170,176,172,168,
174,170,176,172,168,174,180,176,170,178,174,170,176,180,184,178,176,182,190,165];
const run42 = [172,168,164,160,156,166,170,168,174,166,170,176,180,195,389,190,176,172,168,164,
170,166,172,168,174,170,166,172,168,176,170,174,168,172,166,170,176,172,180,174,
170,176,172,168,174,178,172,176,180,200,413,260,230,280,336,200,180,172,166,168,
164,170,166,168,172,174,168,172,170,176,178,174,170,176,172,168,174,170,166,172,
168,174,170,166,172,168,174,170,176,172,168,174,178,369,180,172,166,170,164,168,
162,166,170,164,160,158,166,170,164,168,150,162,166,170,164,168,172,166,170,174,
168,172,176,170,174,168,172,176,170,174,178,172,176,170,174,168,172,176,180,174,
170,176,172,168,174,178,172,176,170,174,168,172,176,170,174,178,172,176,180,174,
170,176,172,168,174,178,172,176,180,174,170,176,172,178,174,170,176,182,178,174];
const run43 = [170,165,172,168,176,170,174,166,172,168,174,170,176,172,168,174,170,176,172,168,
174,170,176,172,168,174,178,172,176,170,174,178,172,176,180,174,170,176,172,168,
174,178,172,176,170,174,168,172,176,170,174,168,164,170,166,172,176,170,174,168,
164,170,166,172,168,174,170,176,172,168,164,170,166,172,176,190,369,200,178,172,
168,164,170,166,172,168,162,166,170,164,168,172,166,160,168,164,170,166,172,168,
164,170,166,160,166,172,168,164,170,166,172,168,164,170,166,172,168,174,170,166,
172,168,174,170,166,172,168,174,170,176,172,168,174,170,176,172,168,174,170,176,
172,178,174,180,176,182,178,186,190,200,387,200,186,182,178,184,180,176,182,178,
174,180,176,182,178,186,182,190,200,447,190,180,176,172,170,178,182,200,407,380];
const run44 = [160,172,178,170,174,168,172,176,170,166,172,168,174,170,164,168,172,176,170,166,
172,168,164,170,174,168,172,166,170,176,172,168,174,178,172,176,170,174,188,172,
168,172,166,170,164,168,172,166,170,174,168,172,166,162,168,172,166,170,176,172,
168,174,170,166,172,176,180,174,178,182,176,180,174,178,184,180,186,190,200,388,
192,186,180,184,178,174,180,176,172,178,174,170,176,172,168,174,170,166,172,168,
164,170,166,172,168,174,170,166,172,168,160,166,170,164,158,166,170,174,168,172,
176,182,186,188,192,186,200,236,407,232,190,186,180,184,178,182,176,180,174,170,
176,172,178,174,180,176,172,178,174,170,176,172,168,174,170,176,180,176,180,186,
200,431,236,240,413,200,182,176,170,166,172,168,176,170,174,168,172,166,170,160];
const run45 = [170,162,168,185,176,172,168,176,164,170,160,166,172,168,176,164,160,170,174,168,
174,170,178,172,176,180,174,186,178,182,176,180,186,190,184,180,176,186,190,184,
190,186,195,200,370,190,178,172,176,170,174,168,176,170,172,166,174,170,176,172,
168,174,178,172,176,170,174,178,172,176,180,174,178,176,182,180,186,188,205,377,
190,186,182,178,174,170,176,172,168,174,170,166,172,168,164,170,166,172,168,172,
168,170,166,172,305,180,170,166,172,168,164,166,170,168,172,166,158,162,166,170,
174,172,168,164,160,166,170,174,178,200,341,196,182,176,172,178,174,180,176,172,
178,174,170,176,172,178,174,170,176,172,178,174,170,176,180,176,172,176,170,174,
178,172,176,170,174,178,176,172,170,176,172,178,180,174,170,172,168,170,170,168];
const run46 = [165,172,178,176,182,190,402,210,200,185,174,168,164,170,176,180,174,170,176,172,
168,174,170,176,172,168,174,170,176,180,190,396,185,180,190,200,186,192,399,185,
176,170,164,168,172,166,170,160,164,170,166,172,168,164,170,166,172,176,170,166,
172,168,174,170,176,172,178,174,180,172,176,182,174,178,172,176,180,174,178,172,
176,182,176,172,178,174,180,176,172,178,185,413,180,174,170,166,168,162,166,160,
164,170,158,166,162,168,156,164,170,166,160,168,164,170,174,168,172,178,170,174,
176,172,168,174,170,166,172,176,170,174,168,172,176,170,166,172,168,174,170,176,
172,168,174,170,166,172,176,170,174,168,172,166,170,176,172,168,174,170,166,172,
176,170,174,168,172,166,170,174,168,164,170,166,172,176,170,174,168,172,166,168];
const run47 = [162,160,166,170,164,172,168,156,166,170,164,168,172,166,170,168,172,174,170,176,
172,168,174,170,176,172,178,174,170,176,172,178,174,176,182,190,178,174,180,186,
180,176,182,178,186,397,180,176,182,186,180,176,172,178,174,180,176,182,178,184,
186,419,190,176,172,168,174,170,176,172,180,176,174,178,176,180,381,178,174,170,
176,172,168,174,170,166,172,176,170,174,168,166,172,168,164,170,166,172,168,174,
170,166,172,168,164,170,166,172,168,174,170,162,166,160,168,164,170,166,172,168,
176,182,178,174,180,176,172,178,174,180,176,172,178,174,180,176,172,178,176,182,
178,174,170,176,172,178,182,196,419,182,176,172,178,174,170,176,172,168,174,170,
164,170,166,172,168,174,170,176,172,168,174,170,176,172,168,170,180,176,172,165];
const run48 = [168,172,170,176,172,168,164,170,166,160,168,172,166,170,174,168,176,170,166,172,
168,174,170,176,172,168,174,170,166,172,168,174,178,172,176,180,174,178,182,176,
180,186,178,172,176,170,174,168,172,178,186,354,190,176,170,164,170,166,172,168,
164,170,174,168,172,166,170,176,172,168,174,170,164,170,166,172,168,174,170,166,
172,176,170,174,168,172,166,162,168,172,166,170,174,168,172,176,170,174,168,164,
170,176,172,168,174,170,166,172,176,170,166,172,168,174,170,176,172,180,174,170,
166,172,168,174,178,180,176,190,186,184,180,178,176,182,178,321,186,180,176,172,
178,174,180,176,172,178,182,176,172,178,174,170,176,180,174,172,178,182,176,172,
180,196,379,190,186,180,176,184,178,186,182,176,180,190,200,368,290,230,185,163];
const run49 = [166,168,170,172,185,316,202,190,176,172,168,164,170,176,168,160,170,176,172,174,
168,164,170,176,172,168,174,178,172,176,180,185,322,188,186,178,184,182,176,172,
178,174,170,176,172,168,166,170,174,170,176,168,164,170,158,166,172,168,174,170,
166,172,170,176,172,174,168,178,176,180,176,172,168,174,170,166,160,164,170,166,
164,170,166,160,168,172,166,162,170,168,164,166,172,170,166,174,164,168,176,166,
170,166,174,164,168,172,166,176,168,164,170,166,172,178,195,380,188,178,176,174,
172,180,168,200,369,188,182,176,180,174,178,172,176,174,180,176,172,170,168,174,
172,170,174,168,176,172,170,166,174,170,172,168,176,172,174,170,176,172,168,174,
172,176,170,174,172,176,168,174,172,176,174,170,176,172,178,176,182,178,172,176];

const runs = [run0,run1,run2,run3,run4,run5,run6,run7,run8,run9,run10,run11,run12,run13,run14,run15,run16,run17,run18,run19,
run20,run21,run22,run23,run24,run25,run26,run27,run28,run29,run30,run31,run32,run33,run34,run35,run36,run37,run38,run39,
run40,run41,run42,run43,run44,run45,run46,run47,run48,run49];

const peakIdx = [[112,122,152,170],[56,95,152,160],[77,82,98,115],[43,60,82,155],[80,117,120,168],
[9,58,66,169],[2,78,115,178],[11,14,71,138],[12,15,75,121],[1,50,90,103],
[3,46,149,166],[71,90,148,170],[9,104,136,140],[38,49,78,85],[18,143,167,178],
[24,104,140,145],[23,31,101,147],[36,45,116,139],[37,42,96,160],[45,111,127,139],
[3,50,54,169],[12,41,149,157],[11,14,60,142],[35,37,101,171],[9,94,128,140],
[71,89,91,146],[1,9,62,136],[17,36,98,165],[8,31,100,157],[22,69,80,135],
[45,65,79,131],[4,118,124,130],[11,32,66,164],[12,148,174,176],[2,58,100,169],
[28,74,160,175],[102,148,162,176],[1,91,135,154],[35,96,149,156],[50,75,82,137],
[71,87,112,171],[2,28,31,67],[14,50,54,93],[76,150,169,178],[79,128,161,164],
[44,79,104,130],[6,31,38,91],[45,61,76,148],[51,135,162,175],[5,32,115,124]];

const xTicks = [0, 50, 100, 150];
const titles = runs.map((_, i) => 'run ' + i);

const S = 2048 / 2500;
const FONT = 'DejaVu Sans';
const axW = 1937.5 / 8.2, gapX = 0.8 * axW;
const axH = 3850 / 14.5, gapY = 0.5 * axH;

const chart = echarts.init(document.getElementById('c'), null, {renderer: 'canvas', width: 2048, height: 4096});
const grids = [], xAxes = [], yAxes = [], series = [], titleOpts = [];
runs.forEach((arr, i) => {
  const r = Math.floor(i / 5), c = i % 5;
  const left = (312.5 + c * (axW + gapX)) * S;
  const top = (600 + r * (axH + gapY)) * S;
  const w = axW * S, h = axH * S;
  grids.push({left: left, top: top, width: w, height: h, show: true, borderColor: '#000', borderWidth: 0.9, backgroundColor: '#fff', containLabel: false});
  const mn = Math.min(...arr), mx = Math.max(...arr);
  const lo = mn - 0.05 * (mx - mn), hi = mx + 0.05 * (mx - mn);
  const yt = [];
  for (let t = Math.ceil(lo / 50) * 50; t <= hi; t += 50) yt.push(t);
  const lab = {fontFamily: FONT, fontSize: 11.4, color: '#000', margin: 8};
  const tick = {show: true, length: 4, lineStyle: {color: '#000', width: 0.9}};
  xAxes.push({gridIndex: i, type: 'value', min: -8.95, max: 187.95,
    axisLine: {show: false}, splitLine: {show: false},
    axisTick: Object.assign({customValues: xTicks}, tick),
    axisLabel: Object.assign({customValues: xTicks}, lab)});
  yAxes.push({gridIndex: i, type: 'value', min: lo, max: hi,
    axisLine: {show: false}, splitLine: {show: false},
    axisTick: Object.assign({customValues: yt}, tick),
    axisLabel: Object.assign({customValues: yt, formatter: v => String(Math.round(v))}, lab)});
  series.push({type: 'line', xAxisIndex: i, yAxisIndex: i, data: arr.map((v, k) => [k, v]),
    showSymbol: false, symbol: 'none', lineStyle: {color: '#1f77b4', width: 1.7}, itemStyle: {color: '#1f77b4'},
    silent: true, z: 2});
  series.push({type: 'scatter', xAxisIndex: i, yAxisIndex: i, data: peakIdx[i].map(p => [p, arr[p]]),
    symbol: 'path://M0,0L10,10M10,0L0,10', symbolSize: 6.8,
    itemStyle: {color: 'rgba(0,0,0,0)', borderColor: '#ff7f0e', borderWidth: 1.15, opacity: 1},
    silent: true, z: 3});
  titleOpts.push({text: titles[i], left: left + w / 2, top: top - 18, textAlign: 'center',
    textStyle: {fontFamily: FONT, fontSize: 13.65, fontWeight: 'normal', color: '#000'}});
});
chart.setOption({animation: false, backgroundColor: '#fff', title: titleOpts, grid: grids, xAxis: xAxes, yAxis: yAxes, series: series});
</script></body></html>
